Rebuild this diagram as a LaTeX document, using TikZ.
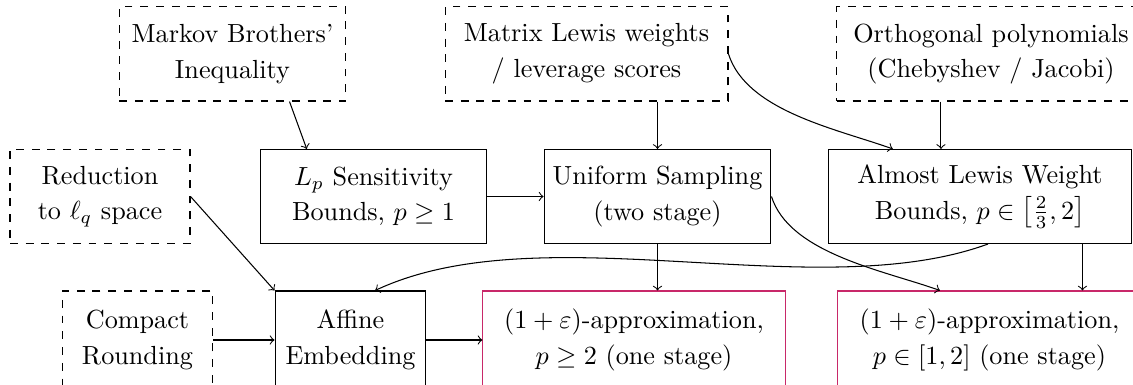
\documentclass[tikz,border=0pt]{standalone}
\usetikzlibrary{calc}
\definecolor{apxcol}{RGB}{200,40,105}
\begin{document}
\begin{tikzpicture}[x=0.3817pt,y=0.3817pt,
  base/.style={align=center, inner sep=0pt, font=\fontsize{10}{13.6}\selectfont, minimum height=35.9pt},
  dbox/.style={base, draw, dashed},
  sbox/.style={base, draw},
  rbox/.style={base, draw=apxcol},
  arr/.style={->}
]
\useasboundingbox (0,0) rectangle (1133,-385);
\clip (0,0) rectangle (1133,-385);
% top row
\node[dbox, minimum width=86.6pt] (markov) at (232.5,-54) {Markov Brothers'\\Inequality};
\node[dbox, minimum width=108pt] (matrix) at (586.5,-54) {Matrix Lewis weights\\/ leverage scores};
\node[dbox, minimum width=117.6pt] (orth) at (991,-54) {Orthogonal polynomials\\(Chebyshev / Jacobi)};
% middle row
\node[dbox, minimum width=68.7pt] (red) at (100,-196.5) {Reduction\\to $\ell_q$ space};
\node[sbox, minimum width=86.6pt] (lp) at (373.5,-196.5) {$L_p$ Sensitivity\\Bounds, $p \ge 1$};
\node[sbox, minimum width=86.6pt] (uni) at (657.5,-196.5) {Uniform Sampling\\(two stage)};
\node[sbox, minimum width=116pt] (alw) at (980,-196.5) {Almost Lewis Weight\\Bounds, $p \in \left[\frac{2}{3}, 2\right]$};
% bottom row
\node[dbox, minimum width=57.6pt, minimum height=37.4pt] (cr) at (137.5,-340) {Compact\\Rounding};
\node[sbox, minimum width=57.6pt, minimum height=37.4pt] (aff) at (350.5,-340) {Affine\\Embedding};
\node[rbox, minimum width=115.3pt, minimum height=37.4pt] (ap1) at (634,-340) {$(1+\varepsilon)$-approximation,\\$p \ge 2$ (one stage)};
\node[rbox, minimum width=116.4pt, minimum height=37.4pt] (ap2) at (989.5,-340) {$(1+\varepsilon)$-approximation,\\$p \in [1,2]$ (one stage)};
% connectors
\draw[arr] ($(markov.south west)!0.75!(markov.south east)$) -- ($(lp.north west)!0.207!(lp.north east)$);
\draw[arr] (uni.north |- matrix.south) -- (uni.north);
\coordinate (t1) at ($(alw.north west)!0.214!(alw.north east)$);
\draw[arr] (matrix.east) .. controls +(18,-57) and +(-56,20) .. (t1);
\coordinate (t2) at ($(alw.north west)!0.372!(alw.north east)$);
\draw[arr] (orth.south -| t2) -- (t2);
\draw[arr] (red.east) -- (aff.north west);
\draw[arr] (lp.east) -- (uni.west);
\draw[arr] (cr.east) -- (aff.west);
\draw[arr] (aff.east) -- (ap1.west);
\draw[arr] (uni.south) -- (uni.south |- ap1.north);
\coordinate (t3) at ($(ap2.north west)!0.338!(ap2.north east)$);
\draw[arr] (uni.east) .. controls +(18,-57) and +(-56,20) .. (t3);
\coordinate (s4) at ($(alw.south west)!0.526!(alw.south east)$);
\coordinate (t4) at ($(aff.north west)!0.662!(aff.north east)$);
\draw[arr] (s4) .. controls +(-173,-63) and +(167,78) .. (t4);
\coordinate (s5) at ($(alw.south west)!0.836!(alw.south east)$);
\draw[arr] (s5) -- (s5 |- ap2.north);
\end{tikzpicture}
\end{document}
